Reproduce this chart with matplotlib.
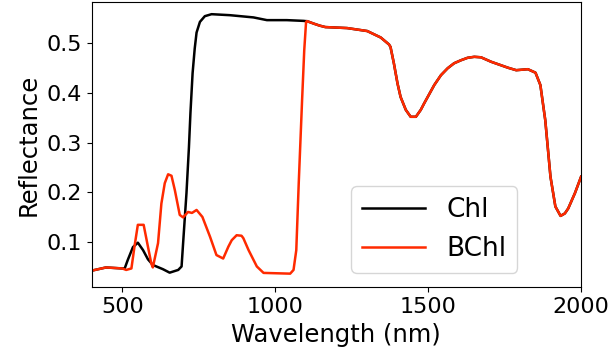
"""Reflectance spectra: chlorophyll vs bacteriochlorophyll vegetation."""

import matplotlib
matplotlib.use("Agg")
import matplotlib.pyplot as plt

# shared near/short-wave infrared part (both spectra coincide here)
tail_wl = [1104, 1126, 1145, 1164, 1200, 1235, 1301, 1345, 1372, 1377, 1388,
           1400, 1410, 1427, 1443, 1460, 1476, 1487, 1520, 1542, 1564, 1585,
           1607, 1629, 1651, 1673, 1706, 1761, 1788, 1826, 1851, 1867, 1883,
           1900, 1916, 1933, 1947, 1958, 1980, 2000]
tail_r = [0.545, 0.540, 0.536, 0.533, 0.532, 0.531, 0.525, 0.512, 0.498, 0.493,
          0.460, 0.419, 0.392, 0.366, 0.352, 0.352, 0.366, 0.379, 0.416, 0.436,
          0.450, 0.460, 0.466, 0.471, 0.473, 0.472, 0.463, 0.451, 0.446, 0.448,
          0.441, 0.416, 0.345, 0.231, 0.171, 0.152, 0.157, 0.167, 0.198, 0.231]

chl_wl = [400, 447, 500, 508, 518, 535, 551, 568, 584, 600, 633, 655, 683,
          694, 699, 710, 718, 723, 730, 737, 743, 754, 770, 792, 852, 929,
          973, 1038, 1093, 1101] + tail_wl
chl_r = [0.0415, 0.048, 0.046, 0.046, 0.063, 0.089, 0.098, 0.083, 0.0645,
         0.053, 0.0445, 0.0375, 0.043, 0.050, 0.097, 0.198, 0.290, 0.360,
         0.440, 0.490, 0.522, 0.5435, 0.555, 0.559, 0.557, 0.5525, 0.547,
         0.547, 0.5455, 0.545] + tail_r

bchl_wl = [400, 447, 500, 513, 530, 540, 551, 570, 584, 595, 600, 617, 628,
           639, 650, 661, 672, 688, 699, 715, 728, 743, 762, 787, 808, 830,
           847, 858, 874, 890, 896, 913, 940, 962, 1049, 1060, 1069, 1077,
           1088, 1095, 1101] + tail_wl
bchl_r = [0.0415, 0.048, 0.046, 0.043, 0.046, 0.090, 0.134, 0.134, 0.090,
          0.056, 0.048, 0.097, 0.177, 0.218, 0.236, 0.233, 0.204, 0.154, 0.149,
          0.160, 0.158, 0.164, 0.150, 0.110, 0.073, 0.066, 0.090, 0.103, 0.113,
          0.112, 0.107, 0.083, 0.050, 0.037, 0.0355, 0.043, 0.083, 0.218,
          0.386, 0.486, 0.5435] + tail_r

fig = plt.figure(figsize=(6.11, 3.6), dpi=100)
ax = fig.add_axes([0.150, 0.202, 0.801, 0.793])

ax.plot(chl_wl, chl_r, color="black", lw=1.8, label="Chl")
ax.plot(bchl_wl, bchl_r, color="#ff2a00", lw=1.8, label="BChl")

ax.set_xlim(400, 2000)
ax.set_ylim(0.008, 0.584)
ax.set_xticks([500, 1000, 1500, 2000])
ax.set_yticks([0.1, 0.2, 0.3, 0.4, 0.5])
ax.tick_params(labelsize=16)
ax.set_xlabel("Wavelength (nm)", fontsize=17.5)
ax.set_ylabel("Reflectance", fontsize=17.5)
ax.legend(loc="lower right", bbox_to_anchor=(0.869, 0.051), borderaxespad=0,
          fontsize=19, handlelength=2.4)

fig.savefig("out.png", dpi=100)
